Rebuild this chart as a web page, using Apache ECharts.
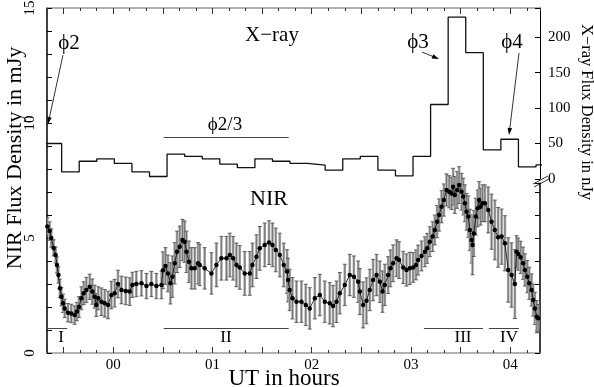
<!DOCTYPE html>
<html><head><meta charset="utf-8">
<script src="https://cdn.jsdelivr.net/npm/echarts@6/dist/echarts.min.js"></script>
<style>html,body{margin:0;padding:0;background:#fff}#c{width:594px;height:387px}</style>
</head><body><div id="c"></div>
<script>
// time in minutes after 00 UT
const nirTime = [-39.8,-38.4,-37.4,-36.0,-34.8,-34.0,-33.1,-32.2,-31.3,-30.3,-29.3,-27.3,-25.3,-23.3,-21.9,-20.7,-19.2,-17.8,-16.2,-14.2,-12.6,-11.2,-10.2,-9.0,-7.1,-5.1,-3.1,-1.1,0.9,2.9,5.0,7.6,10.0,11.6,14.0,17.1,20.1,23.1,26.1,29.2,30.1,31.6,33.1,34.6,35.8,37.2,38.6,40.2,41.9,43.2,44.3,45.8,47.3,49.3,51.3,52.3,55.3,59.4,62.4,65.4,68.5,70.5,72.5,74.5,76.5,79.5,82.6,84.2,86.6,88.6,91.6,94.2,96.3,98.3,100.7,103.1,105.1,105.7,106.7,108.4,110.8,113.8,116.4,118.8,121.9,124.9,127.9,130.9,132.9,135.0,137.0,140.0,143.0,145.5,148.1,149.1,151.1,153.1,155.1,157.1,159.2,161.2,162.8,164.2,166.2,167.6,169.2,171.3,172.8,175.3,177.3,179.3,181.3,183.0,184.3,186.4,188.4,189.8,191.4,193.1,194.4,195.8,197.0,198.5,199.9,201.5,203.1,204.5,205.5,206.5,207.9,209.1,210.6,211.6,212.6,213.6,214.6,215.6,216.6,217.2,218.0,219.2,220.3,221.2,222.1,223.3,224.7,226.7,228.7,230.7,232.7,234.8,236.8,238.8,240.8,242.8,243.8,244.8,246.3,247.8,248.9,250.3,251.5,252.9,253.9,254.9,256.0,256.9];
const nirFlux = [5.5,5.3,5.0,4.57,4.26,3.83,3.39,2.81,2.45,2.16,1.94,1.75,1.72,1.65,1.8,2.0,2.38,2.6,2.74,2.88,2.67,2.45,2.09,2.38,2.23,2.16,2.09,2.52,2.6,3.0,2.74,2.7,2.67,2.96,3.0,3.03,2.91,3.0,2.91,2.96,3.6,3.78,3.46,3.03,3.32,3.9,4.4,4.62,4.91,4.84,4.4,3.97,3.68,3.68,3.9,3.83,3.68,3.46,3.83,4.12,4.12,4.26,4.12,3.83,3.72,3.46,3.46,3.83,4.19,4.55,4.7,4.8,4.7,4.48,4.26,3.83,3.54,3.17,2.74,2.38,2.23,2.23,2.09,1.94,2.38,2.52,2.23,2.16,2.04,2.23,2.6,2.96,3.39,3.32,3.1,2.67,2.09,2.27,2.74,3.17,3.39,3.1,2.67,2.96,3.39,3.68,3.9,4.12,4.04,3.72,3.61,3.68,3.72,3.83,4.04,4.22,4.4,4.55,4.84,5.06,5.35,5.71,6.0,6.36,6.65,7.09,7.01,6.94,7.23,6.87,7.09,7.3,7.01,6.8,6.51,6.14,5.93,5.35,4.91,4.7,5.2,5.93,6.29,6.65,6.36,6.51,6.51,6.22,5.71,5.35,5.03,5.06,4.77,3.61,3.39,3.0,4.4,4.3,4.16,3.9,3.61,3.32,3.03,2.74,2.3,1.94,1.58,1.51];
const nirErr = [0.4,0.4,0.4,0.35,0.35,0.35,0.35,0.4,0.4,0.4,0.4,0.4,0.4,0.4,0.4,0.45,0.5,0.5,0.55,0.55,0.55,0.5,0.5,0.5,0.6,0.6,0.6,0.6,0.6,0.6,0.6,0.6,0.6,0.55,0.55,0.55,0.55,0.55,0.55,0.6,0.8,0.8,0.8,0.9,0.9,0.9,0.9,0.9,0.9,0.9,0.9,0.9,0.9,0.9,0.9,0.9,0.9,0.9,0.95,0.95,0.95,0.95,0.95,0.95,0.95,0.95,0.95,0.95,0.95,0.95,0.95,0.95,0.95,0.95,0.95,0.95,0.95,0.95,0.9,0.9,0.9,0.9,0.9,0.9,0.9,0.9,0.9,0.9,0.9,0.9,0.9,0.9,0.9,0.9,0.9,1.0,1.0,1.0,0.9,0.9,0.9,0.9,0.9,0.9,0.8,0.8,0.8,0.8,0.8,0.7,0.7,0.7,0.65,0.65,0.65,0.65,0.65,0.65,0.65,0.65,0.65,0.7,0.7,0.7,0.7,0.7,0.7,0.7,0.8,0.8,0.8,0.8,0.8,0.8,0.8,0.8,0.9,0.9,1.0,1.3,1.0,0.8,0.8,0.8,0.8,0.8,0.8,1.0,1.2,1.3,1.3,1.2,1.2,1.4,1.4,1.5,0.7,0.7,0.7,0.7,0.7,0.7,0.7,0.7,0.7,0.7,0.7,0.6];
// X-ray histogram: bin start times (minutes) and flux (nJy); last entry closes the final bin
const xrayTime = [-41.8,-31.15,-20.53,-9.91,0.71,11.33,21.95,32.57,43.19,53.81,64.43,75.05,85.67,96.29,106.91,117.53,128.15,138.77,149.39,160.01,170.63,181.25,191.87,202.49,213.11,223.73,234.35,244.97,255.59,266.2];
const xrayFlux = [50,10,25,28.5,22,10,3.5,35,32,28.5,21,16,28.5,25,22,19.5,12.5,28.5,32,12.5,4.5,32,105,228,178,41,56,17,20,20];
const hourLabels = ['00','01','02','03','04'];
const nirTicks = [0,5,10,15];
const xrayTicks = [0,50,100,150,200];
// interval markers (minutes)
const segI = [-39.3,-27.8], segII = [30.5,106.1], segIII = [187.8,223.5], segIV = [227.1,245.3];
const phi23 = [30.5,106.1];

const FONT = '"Liberation Serif", "Times New Roman", serif';
const tMin = -40, tMax = 258;
const minuteCats = [];
for (let m = tMin; m <= tMax; m++) minuteCats.push(String(m));

const chart = echarts.init(document.getElementById('c'), null, {renderer:'canvas'});

function arrow(x1,y1,x2,y2){
  const a = Math.atan2(y2-y1,x2-x1), L=7, W=2.3;
  const c=Math.cos(a), s=Math.sin(a);
  return [
    {type:'line', shape:{x1,y1,x2:x2-L*0.6*c,y2:y2-L*0.6*s}, style:{stroke:'#000',lineWidth:0.8}},
    {type:'polygon', shape:{points:[[x2,y2],[x2-L*c+W*s,y2-L*s-W*c],[x2-L*c-W*s,y2-L*s+W*c]]}, style:{fill:'#000'}}
  ];
}
function txt(x,y,t,size,rot){
  const o = {type:'text', x, y, style:{text:t, fontFamily:FONT, fontSize:size, fill:'#000', align:'center', verticalAlign:'middle'}};
  if (rot) o.rotation = rot;
  return o;
}

const axisGray = '#999';
const option = {
  backgroundColor:'#fff',
  animation:false,
  grid:[
    {left:47, right:54, top:8, bottom:34, outerBoundsMode:'none', containLabel:false},
    {left:47, right:54, top:8, height:171, outerBoundsMode:'none', containLabel:false},
    {left:47, right:54, top:183, bottom:34, outerBoundsMode:'none', containLabel:false}
  ],
  xAxis:[
    {gridIndex:0, type:'value', min:tMin, max:tMax, interval:10, position:'bottom',
     axisLine:{onZero:false, lineStyle:{color:axisGray, width:1.5}},
     axisTick:{inside:true, length:3, lineStyle:{color:'#333'}}, axisLabel:{show:false}, splitLine:{show:false}},
    {gridIndex:0, type:'category', data:minuteCats, boundaryGap:false, position:'bottom',
     axisLine:{show:false, onZero:false},
     axisTick:{inside:true, length:6, interval:(i,v)=>Number(v)%30===0, lineStyle:{color:'#333'}},
     axisLabel:{interval:(i,v)=>Number(v)%60===0, formatter:v=>hourLabels[Number(v)/60], fontFamily:FONT, fontSize:15, color:'#000', margin:5},
     splitLine:{show:false}},
    {gridIndex:1, type:'value', min:tMin, max:tMax, interval:10, position:'top',
     axisLine:{onZero:false, lineStyle:{color:axisGray, width:1.5}},
     axisTick:{inside:true, length:3, lineStyle:{color:'#333'}}, axisLabel:{show:false}, splitLine:{show:false}},
    {gridIndex:1, type:'category', data:minuteCats, boundaryGap:false, position:'top',
     axisLine:{show:false, onZero:false},
     axisTick:{inside:true, length:6, interval:(i,v)=>Number(v)%30===0, lineStyle:{color:'#333'}},
     axisLabel:{show:false}, splitLine:{show:false}},
    {gridIndex:2, type:'value', min:tMin, max:tMax, show:false}
  ],
  yAxis:[
    {gridIndex:0, type:'value', min:0, max:15, interval:5, position:'left',
     axisLine:{onZero:false, lineStyle:{color:'#000', width:1.5}},
     axisTick:{inside:true, length:5, lineStyle:{color:'#000'}},
     minorTick:{show:true, splitNumber:5, length:5, lineStyle:{color:'#000'}},
     axisLabel:{rotate:90, fontFamily:FONT, fontSize:15, color:'#000', margin:9,
       formatter:v=>nirTicks.indexOf(v)>=0?String(v):''},
     splitLine:{show:false}},
    {gridIndex:1, type:'value', min:0, max:241, interval:50, position:'right',
     axisLine:{onZero:false, lineStyle:{color:'#000', width:1}},
     axisTick:{inside:true, length:5, lineStyle:{color:'#000'}},
     axisLabel:{fontFamily:FONT, fontSize:15, color:'#000', margin:8,
       formatter:v=>xrayTicks.indexOf(v)>=0?String(v):''},
     splitLine:{show:false}},
    {gridIndex:2, type:'value', min:0, max:7.39, interval:1, position:'right',
     axisLine:{onZero:false, lineStyle:{color:'#000', width:1.5}},
     axisTick:{inside:true, length:5, lineStyle:{color:'#000'}},
     axisLabel:{show:false}, splitLine:{show:false}}
  ],
  series:[
    {type:'custom', xAxisIndex:0, yAxisIndex:0, clip:true, z:1,
     data:nirTime.map((t,i)=>[t, nirFlux[i]-nirErr[i], nirFlux[i]+nirErr[i]]),
     encode:{x:0, y:[1,2]},
     renderItem:(params, api)=>{
       const t=api.value(0), p1=api.coord([t, api.value(1)]), p2=api.coord([t, api.value(2)]);
       const cw=2;
       return {type:'group', children:[
         {type:'line', shape:{x1:p1[0],y1:p1[1],x2:p2[0],y2:p2[1]}, style:{stroke:'#a8a8a8', lineWidth:2.6}},
         {type:'line', shape:{x1:p1[0],y1:p1[1],x2:p2[0],y2:p2[1]}, style:{stroke:'#555', lineWidth:0.6}},
         {type:'line', shape:{x1:p2[0]-cw,y1:p2[1],x2:p2[0]+cw,y2:p2[1]}, style:{stroke:'#444', lineWidth:0.8}},
         {type:'line', shape:{x1:p1[0]-cw,y1:p1[1],x2:p1[0]+cw,y2:p1[1]}, style:{stroke:'#444', lineWidth:0.8}}
       ]};
     }},
    {type:'line', xAxisIndex:0, yAxisIndex:0, z:3,
     data:nirTime.map((t,i)=>[t, nirFlux[i]]),
     symbol:'circle', symbolSize:4.5, showSymbol:true,
     itemStyle:{color:'#000'}, lineStyle:{color:'#000', width:0.8},
     markLine:{silent:true, symbol:'none', label:{show:false},
       lineStyle:{color:'#444', width:1, type:'solid'},
       data:[segI,segII,segIII,segIV].map(s=>[{coord:[s[0],1.09]},{coord:[s[1],1.09]}])}},
    {type:'line', xAxisIndex:2, yAxisIndex:1, step:'end', z:3,
     data:xrayTime.map((t,i)=>[t, xrayFlux[i]]),
     symbol:'none', lineStyle:{color:'#111', width:1.3},
     markLine:{silent:true, symbol:'none', label:{show:false},
       lineStyle:{color:'#444', width:1, type:'solid'},
       data:[[{coord:[phi23[0],59]},{coord:[phi23[1],59]}]]}}
  ],
  graphic:[].concat(
    arrow(63,55,48,124),
    arrow(422,52,439,59),
    arrow(519,53,509,135),
    [
      txt(69,43,'ϕ2',21),
      txt(272,35,'X\u2212ray',21),
      txt(225,125,'ϕ2/3',19),
      txt(418,42,'ϕ3',21),
      txt(512,42,'ϕ4',21),
      txt(269,199,'NIR',22),
      txt(61,338,'I',17),
      txt(226,338,'II',17),
      txt(463,338,'III',17),
      txt(509,338,'IV',17),
      txt(15,158,'NIR Flux Density in mJy',22,Math.PI/2),
      txt(284,379,'UT in hours',23),
      txt(586,112,'X\u2212ray Flux Density in nJy',16.5,-Math.PI/2),
      {type:'line', shape:{x1:533,y1:184,x2:548,y2:176}, style:{stroke:'#333',lineWidth:1}},
      {type:'line', shape:{x1:534,y1:187,x2:549,y2:179}, style:{stroke:'#333',lineWidth:1}}
    ])
};
chart.setOption(option);
</script></body></html>
